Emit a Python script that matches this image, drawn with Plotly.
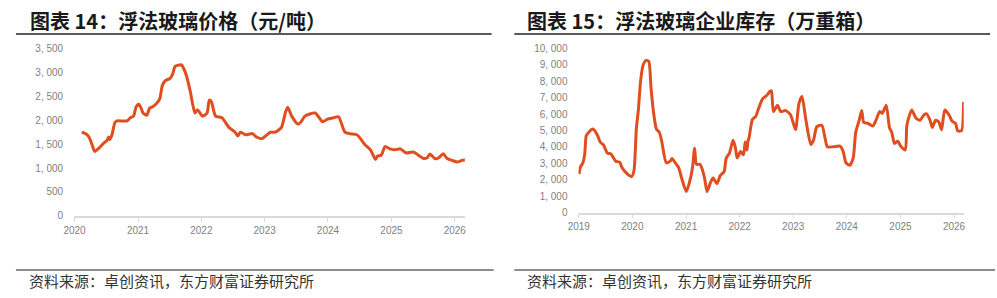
import plotly.graph_objects as go

# ---------------- data: 浮法玻璃价格（元/吨） ----------------
price_dates = [
    "2020-02-12", "2020-03-06", "2020-03-24", "2020-04-12", "2020-04-26", "2020-05-21",
    "2020-06-16", "2020-07-08", "2020-07-15", "2020-07-22", "2020-08-03", "2020-08-21",
    "2020-09-02", "2020-10-30", "2020-11-18", "2020-12-06", "2020-12-22", "2021-01-05",
    "2021-01-19", "2021-01-30", "2021-02-21", "2021-03-09", "2021-03-29", "2021-04-19",
    "2021-05-07", "2021-05-21", "2021-06-06", "2021-07-05", "2021-07-19", "2021-08-03",
    "2021-09-09", "2021-09-20", "2021-10-08", "2021-10-30", "2021-11-25", "2021-12-09",
    "2022-01-08", "2022-02-03", "2022-02-16", "2022-02-28", "2022-03-24", "2022-04-30",
    "2022-06-09", "2022-07-15", "2022-07-30", "2022-08-14", "2022-09-13", "2022-10-23",
    "2022-11-14", "2022-12-17", "2023-02-03", "2023-03-02", "2023-04-08", "2023-04-30",
    "2023-05-14", "2023-06-06", "2023-07-12", "2023-08-03", "2023-08-21", "2023-10-19",
    "2023-12-02", "2023-12-27", "2024-02-03", "2024-03-02", "2024-04-08", "2024-05-07",
    "2024-06-16", "2024-08-03", "2024-09-02", "2024-10-01", "2024-10-12", "2024-11-03",
    "2024-11-25", "2024-12-24", "2025-01-22", "2025-02-21", "2025-03-27", "2025-05-07",
    "2025-07-05", "2025-07-26", "2025-08-11", "2025-09-09", "2025-10-01", "2025-10-26",
    "2025-11-18", "2025-12-17", "2026-01-15", "2026-02-10", "2026-02-28",
]
price_values = [
    1750, 1718, 1650, 1483, 1348, 1416,
    1517, 1583, 1650, 1600, 1684, 1952,
    1986, 1986, 2052, 2086, 2288, 2334,
    2254, 2153, 2107, 2254, 2288, 2354,
    2455, 2724, 2825, 2877, 2958, 3127,
    3159, 3093, 2926, 2590, 2153, 2221,
    2086, 2153, 2422, 2388, 2086, 2052,
    1851, 1750, 1670, 1750, 1698, 1720,
    1650, 1617, 1750, 1750, 1851, 2153,
    2274, 2086, 1919, 1986, 2086, 2153,
    1966, 2020, 2052, 2073, 1750, 1718,
    1698, 1483, 1382, 1181, 1248, 1268,
    1449, 1402, 1382, 1402, 1315, 1335,
    1201, 1215, 1295, 1195, 1215, 1302,
    1201, 1161, 1127, 1161, 1167,
]

# ---------------- data: 浮法玻璃企业库存（万重箱） ----------------
stock_dates = [
    "2019-01-03", "2019-01-11", "2019-01-29", "2019-02-10", "2019-02-21", "2019-03-09",
    "2019-03-24", "2019-04-10", "2019-05-09", "2019-05-27", "2019-06-19", "2019-07-15",
    "2019-08-07", "2019-08-23", "2019-09-10", "2019-10-07", "2019-10-20", "2019-11-17",
    "2019-12-27", "2020-01-12", "2020-01-28", "2020-02-11", "2020-02-26", "2020-03-14",
    "2020-04-04", "2020-04-22", "2020-05-07", "2020-05-25", "2020-06-13", "2020-07-03",
    "2020-07-20", "2020-08-19", "2020-09-15", "2020-09-27", "2020-10-19", "2020-11-11",
    "2020-12-03", "2021-01-02", "2021-01-22", "2021-02-14", "2021-02-28", "2021-03-13",
    "2021-04-05", "2021-04-21", "2021-05-08", "2021-05-24", "2021-06-18", "2021-07-04",
    "2021-07-30", "2021-08-22", "2021-09-17", "2021-10-02", "2021-10-24", "2021-11-17",
    "2021-12-02", "2021-12-15", "2022-01-07", "2022-01-27", "2022-02-08", "2022-02-20",
    "2022-02-26", "2022-03-07", "2022-03-29", "2022-04-21", "2022-05-03", "2022-06-06",
    "2022-07-04", "2022-07-26", "2022-08-06", "2022-08-19", "2022-09-16", "2022-10-07",
    "2022-11-11", "2022-12-14", "2023-01-17", "2023-02-09", "2023-03-02", "2023-03-28",
    "2023-05-01", "2023-05-19", "2023-06-11", "2023-07-15", "2023-08-07", "2023-08-22",
    "2023-10-02", "2023-11-16", "2023-12-08", "2023-12-26", "2024-01-22", "2024-02-14",
    "2024-03-02", "2024-03-24", "2024-04-12", "2024-04-25", "2024-05-24", "2024-06-27",
    "2024-07-20", "2024-08-12", "2024-08-30", "2024-09-26", "2024-10-18", "2024-11-03",
    "2024-11-21", "2024-12-13", "2025-01-06", "2025-02-03", "2025-02-13", "2025-03-01",
    "2025-03-19", "2025-04-16", "2025-05-14", "2025-06-11", "2025-06-28", "2025-07-20",
    "2025-08-06", "2025-08-28", "2025-09-20", "2025-10-08", "2025-10-30", "2025-11-27",
    "2025-12-19", "2026-01-11", "2026-01-26", "2026-02-21", "2026-03-07",
]
stock_values = [
    2357, 2749, 3041, 3526, 4696, 4889,
    5029, 5088, 4696, 4304, 4111, 3626,
    3585, 3368, 3135, 3076, 2784, 2456,
    2199, 2550, 5088, 6257, 8012, 8982,
    9275, 9216, 7620, 6058, 5088, 4889,
    4304, 3041, 3135, 3292, 3041, 2749,
    2064, 1287, 1772, 2749, 3918, 2942,
    2942, 2649, 2064, 1287, 1871, 2105,
    1772, 2257, 2491, 3333, 3626, 4404,
    4012, 3333, 3719, 3526, 4304, 3819,
    4304, 4596, 5672, 5865, 6158, 6936,
    7135, 7380, 7427, 6158, 6550, 6158,
    6216, 5965, 5047, 6643, 7076, 5672,
    4152, 4404, 5240, 5321, 4503, 4012,
    4012, 4053, 3719, 3041, 2883, 3333,
    4889, 5573, 6216, 5514, 5438, 5281,
    5672, 6158, 6058, 6550, 5181, 4889,
    4211, 4345, 4012, 3819, 5281, 5865,
    6257, 5766, 5631, 5965, 6023, 5672,
    5181, 5631, 5514, 5047, 6257, 5965,
    5573, 5438, 4988, 4988, 6742,
]

# ---------------- axis ticks & texts ----------------
price_ticks = [0, 500, 1000, 1500, 2000, 2500, 3000, 3500]
stock_ticks = [0, 1000, 2000, 3000, 4000, 5000, 6000, 7000, 8000, 9000, 10000]
price_years = ["2020", "2021", "2022", "2023", "2024", "2025", "2026"]
stock_years = ["2019", "2020", "2021", "2022", "2023", "2024", "2025", "2026"]

title_left = "图表 14：浮法玻璃价格（元/吨）"
title_right = "图表 15：浮法玻璃企业库存（万重箱）"
source_text = "资料来源：卓创资讯，东方财富证券研究所"

W, H = 997, 298
LINE = "#E04E1F"
TICK = "#7f7f7f"
AX = "#d9d9d9"


def fmt(v):
    return f"{v:,}".replace(",", ", ")


fig = go.Figure()
fig.add_trace(go.Scatter(x=price_dates, y=price_values, mode="lines",
                         line=dict(color=LINE, width=3, shape="spline", smoothing=0.6),
                         xaxis="x", yaxis="y", showlegend=False, hoverinfo="skip"))
fig.add_trace(go.Scatter(x=stock_dates, y=stock_values, mode="lines",
                         line=dict(color=LINE, width=3, shape="spline", smoothing=0.6),
                         xaxis="x2", yaxis="y2", showlegend=False, hoverinfo="skip"))


def px_x(p):
    return p / W


def px_y(p):
    return 1 - p / H


xcommon = dict(type="date", showgrid=False, showline=True, linecolor=AX, linewidth=1.5,
               ticks="outside", ticklen=4, tickcolor=AX, tickwidth=1,
               tickfont=dict(family="Arial, Liberation Sans", size=10, color=TICK),
               zeroline=False, fixedrange=True)
ycommon = dict(showgrid=False, showline=False, ticks="", zeroline=False,
               tickfont=dict(family="Arial, Liberation Sans", size=10, color=TICK),
               ticklabelstandoff=10, fixedrange=True)

fig.update_layout(
    width=W, height=H, margin=dict(l=0, r=0, t=0, b=0),
    paper_bgcolor="white", plot_bgcolor="white",
    xaxis=dict(xcommon, domain=[px_x(64), px_x(460)], anchor="y",
               range=["2019-12-30", "2026-03-01"],
               tickvals=[f"{y}-01-01" for y in price_years], ticktext=price_years),
    yaxis=dict(ycommon, domain=[px_y(218.7), px_y(44.3)], anchor="x",
               range=[0, 3500], tickvals=price_ticks,
               ticktext=[fmt(v) for v in price_ticks]),
    xaxis2=dict(xcommon, domain=[px_x(575), px_x(965.3)], anchor="y2",
                range=["2018-12-30", "2026-03-08"],
                tickvals=[f"{y}-01-01" for y in stock_years], ticktext=stock_years),
    yaxis2=dict(ycommon, domain=[px_y(215.3), px_y(44.3)], anchor="x2",
                range=[0, 10000], tickvals=stock_ticks,
                ticktext=[fmt(v) for v in stock_ticks]),
)

title_font = dict(family="Noto Sans CJK SC", size=20, color="#1a1a1a", weight="bold")
src_font = dict(family="Noto Sans CJK SC", size=15, color="#333333")

for x0, txt in [(17, title_left), (521, title_right)]:
    fig.add_annotation(x=px_x(x0), y=px_y(15), xref="paper", yref="paper",
                       text=txt, showarrow=False, xanchor="left", yanchor="middle",
                       font=title_font)
for x0 in [16, 521]:
    fig.add_annotation(x=px_x(x0), y=px_y(286), xref="paper", yref="paper",
                       text=source_text, showarrow=False, xanchor="left", yanchor="middle",
                       font=src_font)

for (a, b) in [(5, 487), (510, 992)]:
    fig.add_shape(type="line", xref="paper", yref="paper",
                  x0=px_x(a), x1=px_x(b), y0=px_y(29.3), y1=px_y(29.3),
                  line=dict(color="#222222", width=1.5))
for (a, b) in [(5, 489), (510, 997)]:
    fig.add_shape(type="line", xref="paper", yref="paper",
                  x0=px_x(a), x1=px_x(b), y0=px_y(275), y1=px_y(275),
                  line=dict(color="#8c8c8c", width=2))

fig.write_html("out.html")
